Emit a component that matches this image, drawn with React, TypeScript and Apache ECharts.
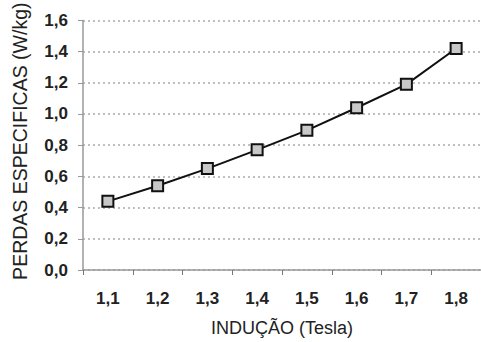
import React, { useEffect, useRef } from "react";
import * as echarts from "echarts";

const categories = ["1,1", "1,2", "1,3", "1,4", "1,5", "1,6", "1,7", "1,8"];
const losses = [0.44, 0.54, 0.65, 0.77, 0.895, 1.04, 1.19, 1.42];
const yName = "PERDAS ESPECIFICAS (W/kg)";
const xName = "INDUÇÃO (Tesla)";

export default function App() {
  const ref = useRef<HTMLDivElement>(null);
  useEffect(() => {
    if (!ref.current) return;
    const chart = echarts.init(ref.current, undefined, { renderer: "svg" });
    const font = "Liberation Sans, Arial, sans-serif";
    chart.setOption({
      animation: false,
      backgroundColor: "#ffffff",
      grid: { left: 83, right: 0, top: 19, bottom: 71, containLabel: false },
      xAxis: {
        type: "category",
        data: categories,
        boundaryGap: true,
        name: xName,
        nameLocation: "middle",
        nameGap: 49,
        nameTextStyle: { fontFamily: font, fontSize: 18, color: "#222" },
        axisLine: { lineStyle: { color: "#999", width: 1.5 } },
        axisTick: { show: true, length: 5, lineStyle: { color: "#777" } },
        axisLabel: { margin: 20, fontFamily: font, fontSize: 17, fontWeight: "bold", color: "#222" },
        splitLine: { show: false },
      },
      yAxis: {
        type: "value",
        min: 0,
        max: 1.6,
        interval: 0.2,
        name: yName,
        nameLocation: "middle",
        nameGap: 53,
        nameTextStyle: { fontFamily: font, fontSize: 19.5, color: "#222", padding: [0, 0, 0, 8] },
        axisLine: { show: true, lineStyle: { color: "#999", width: 1.5 } },
        axisTick: { show: true, length: 5, lineStyle: { color: "#999" } },
        axisLabel: {
          margin: 15,
          fontFamily: font,
          fontSize: 17,
          fontWeight: "bold",
          color: "#222",
          formatter: (v: number) => v.toFixed(1).replace(".", ","),
        },
        splitLine: { show: true, lineStyle: { color: "#aaa", type: [2, 3], width: 1.5 } },
      },
      series: [
        {
          type: "line",
          data: losses,
          symbol: "rect",
          symbolSize: 11,
          showAllSymbol: true,
          lineStyle: { color: "#111", width: 2 },
          itemStyle: { color: "#c8c8c8", borderColor: "#111", borderWidth: 2 },
        },
      ],
    });
    return () => chart.dispose();
  }, []);
  return <div ref={ref} style={{ width: 481, height: 342, position: "absolute", left: 0, top: 0 }} />;
}
